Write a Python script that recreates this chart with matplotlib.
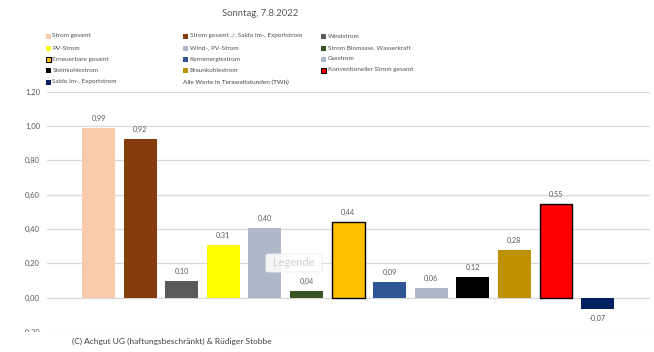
import matplotlib
matplotlib.use("Agg")
import matplotlib.pyplot as plt
from matplotlib.patches import Rectangle, FancyBboxPatch

plt.rcParams['font.family'] = ['Lato', 'DejaVu Sans']

W, H = 654, 352
categories = ["Strom gesamt", "Strom gesamt ./. Saldo Im-, Exportstrom", "Windstrom",
              "PV-Strom", "Wind-, PV-Strom", "Strom Biomasse, Wasserkraft",
              "Erneuerbare gesamt", "Kernenergiestrom", "Gasstrom",
              "Steinkohlestrom", "Braunkohlestrom", "Konventioneller Strom gesamt",
              "Saldo Im-, Exportstrom"]
values = [0.989, 0.923, 0.097, 0.307, 0.404, 0.037, 0.443, 0.089, 0.056, 0.118, 0.276, 0.548, -0.066]
labels = ["0,99", "0,92", "0,10", "0,31", "0,40", "0,04", "0,44", "0,09", "0,06", "0,12", "0,28", "0,55", "-0,07"]
colors = ["#F8CBAD", "#843C0C", "#595959", "#FFFF00", "#ADB9CA", "#375623", "#FFC000",
          "#2F5597", "#ADB9CA", "#000000", "#BF9000", "#FF0000", "#002060"]
edges = [None, None, None, None, None, None, "#000000", None, None, None, None, "#000000", None]
yticks = [-0.2, 0.0, 0.2, 0.4, 0.6, 0.8, 1.0, 1.2]
ytick_labels = ["-0,20", "0,00", "0,20", "0,40", "0,60", "0,80", "1,00", "1,20"]

txt = "#595959"

def fx(px):
    return px / W

def fy(py):
    return 1 - py / H

fig = plt.figure(figsize=(W / 100, H / 100), dpi=100)
ax = fig.add_axes([fx(47), fy(332), fx(650) - fx(47), fy(91.7) - fy(332)])

for i, (v, c, e) in enumerate(zip(values, colors, edges)):
    ax.bar(i, v, width=0.79, color=c, edgecolor=e if e else c,
           linewidth=1.0 if e else 0, zorder=3)
    if v >= 0:
        ax.text(i, v + 0.035, labels[i], ha='center', va='bottom', fontsize=5.2, color=txt)
    else:
        ax.text(i, v - 0.035, labels[i], ha='center', va='top', fontsize=5.2, color=txt)

ax.set_xlim(-1.24, 13.26)
ax.set_ylim(-0.2, 1.2)
ax.set_yticks(yticks)
ax.set_yticklabels(ytick_labels, fontsize=5.5, color=txt)
ax.set_xticks([])
ax.tick_params(axis='y', length=0, pad=5)
ax.grid(axis='y', color='#D9D9D9', linewidth=0.9, zorder=0)
for s in ax.spines.values():
    s.set_visible(False)

# Title
fig.text(fx(260), fy(13), "Sonntag, 7.8.2022", ha='center', va='center', fontsize=6.8, color=txt)

# Legend (3 columns)
col_x = [48, 185, 323]
row_y = [36, 48, 59, 70, 82]
order = [
    (0, 0, 0), (0, 1, 1), (0, 2, 2),
    (1, 0, 3), (1, 1, 4), (1, 2, 5),
    (2, 0, 6), (2, 1, 7), (2, 2, 8),
    (3, 0, 9), (3, 1, 10), (3, 2, 11),
    (4, 0, 12),
]
for r, c, idx in order:
    x0, y0 = col_x[c], row_y[r]
    ec = edges[idx] if edges[idx] else colors[idx]
    fig.patches.append(Rectangle((fx(x0 - 2), fy(y0 + 2.5)), fx(5), 5 / H,
                                 transform=fig.transFigure, facecolor=colors[idx],
                                 edgecolor=ec, linewidth=0.8 if edges[idx] else 0))
    fig.text(fx(x0 + 4.5), fy(y0), categories[idx], ha='left', va='center', fontsize=4.6, color='#505050')
fig.text(fx(185 - 2), fy(row_y[4]), "Alle Werte in Terawattstunden (TWh)", ha='left', va='center',
         fontsize=4.6, color='#404040')

# "Legende" ghost box
fig.patches.append(FancyBboxPatch((fx(266), fy(272)), fx(56), 18 / H,
                                  boxstyle="round,pad=0,rounding_size=0.005",
                                  transform=fig.transFigure, facecolor='white', alpha=0.85,
                                  edgecolor='#EEEEEE', linewidth=0.8, zorder=5))
fig.text(fx(294), fy(263), "Legende", ha='center', va='center', fontsize=8, color='#D0D0D0', zorder=6)

# Copyright box
fig.patches.append(Rectangle((0, 0), fx(380), fy(331.5), transform=fig.transFigure,
                             facecolor='white', edgecolor='none', zorder=5))
fig.text(fx(172), fy(341), "(C) Achgut UG (haftungsbeschränkt) & Rüdiger Stobbe", ha='center',
         va='center', fontsize=6, color='#404040', zorder=6)

fig.savefig("out.png", dpi=100)
